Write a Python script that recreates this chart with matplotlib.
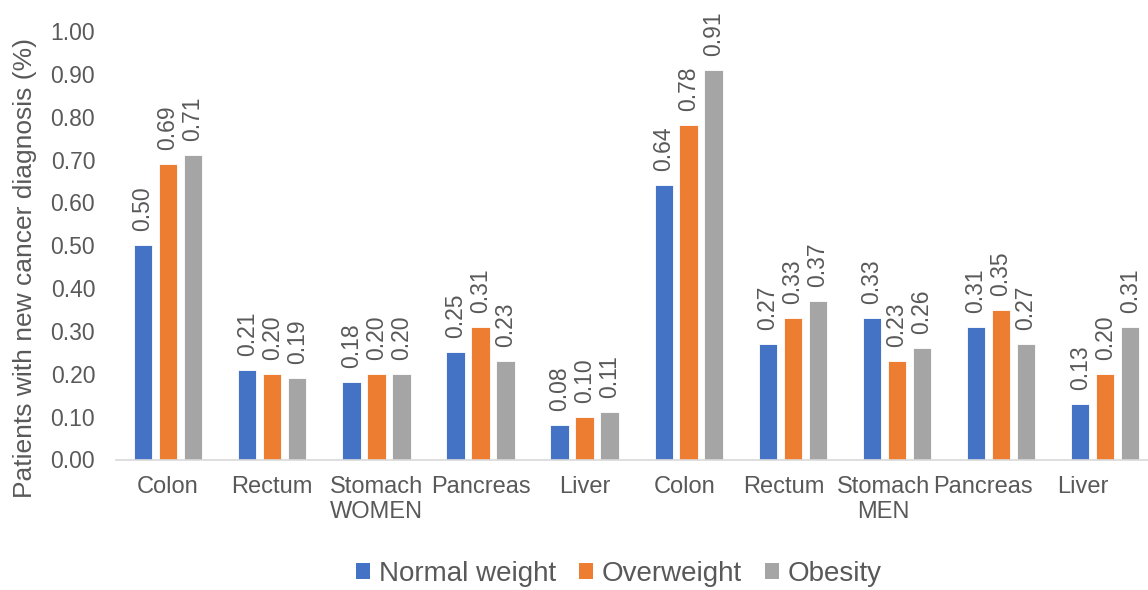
import numpy as np
import matplotlib
matplotlib.use("Agg")
import matplotlib.pyplot as plt

plt.rcParams["font.family"] = ["Liberation Sans", "DejaVu Sans"]

categories = ["Colon", "Rectum", "Stomach\nWOMEN", "Pancreas", "Liver",
              "Colon", "Rectum", "Stomach\nMEN", "Pancreas", "Liver"]
series = ["Normal weight", "Overweight", "Obesity"]
normal = [0.50, 0.21, 0.18, 0.25, 0.08, 0.64, 0.27, 0.33, 0.31, 0.13]
overweight = [0.69, 0.20, 0.20, 0.31, 0.10, 0.78, 0.33, 0.23, 0.35, 0.20]
obesity = [0.71, 0.19, 0.20, 0.23, 0.11, 0.91, 0.37, 0.26, 0.27, 0.31]

colors = ["#4472C4", "#ED7D31", "#A5A5A5"]
text_color = "#595959"
W, H = 1148, 590

fig = plt.figure(figsize=(W / 100, H / 100), dpi=100)
ax = fig.add_axes([116 / W, 130.5 / H, (1157.3 - 116) / W, 428.5 / H])

x = np.arange(len(categories))
width = 0.177
step = 0.24
for k, (name, vals) in enumerate(zip(series, [normal, overweight, obesity])):
    pos = x + (k - 1) * step
    bars = ax.bar(pos, vals, width, color=colors[k], edgecolor="white",
                  linewidth=0.6, label=name)
    for b, v in zip(bars, vals):
        ax.annotate(f"{v:.2f}", (b.get_x() + b.get_width() / 2, v),
                    xytext=(0, 10), textcoords="offset points",
                    rotation=90, ha="center", va="bottom",
                    fontsize=16.5, color=text_color)

ax.set_xlim(-0.5, len(categories) - 0.5)
ax.set_ylim(0, 1.0)
ax.set_yticks(np.arange(0, 1.01, 0.1))
ax.set_yticklabels([f"{t:.2f}" for t in np.arange(0, 1.01, 0.1)])

# men's labels sit a little tighter than their bars
tick_x = [i if i < 5 else 4 + (i - 4) * 0.956 for i in x]
ax.set_xticks(tick_x)
ax.set_xticklabels(categories, linespacing=1.15)

ax.tick_params(axis="y", length=0, pad=15, labelsize=16.5, labelcolor=text_color)
ax.tick_params(axis="x", length=0, pad=12, labelsize=17, labelcolor=text_color)
for s in ["top", "right", "left"]:
    ax.spines[s].set_visible(False)
ax.spines["bottom"].set_color("#D9D9D9")
ax.spines["bottom"].set_linewidth(1.2)

fig.text(25 / W, 1 - 268 / H, "Patients with new cancer diagnosis (%)",
         rotation=90, ha="center", va="center", fontsize=19, color=text_color)

leg = fig.legend(loc="center", bbox_to_anchor=(619 / W, 1 - 574 / H), ncol=3,
                 frameon=False, fontsize=20, handlelength=0.5, handleheight=0.5,
                 handletextpad=0.3, columnspacing=0.85, borderpad=0)
for t in leg.get_texts():
    t.set_color(text_color)
for h in leg.legend_handles:
    h.set_edgecolor("none")

fig.savefig("out.png", dpi=100)
